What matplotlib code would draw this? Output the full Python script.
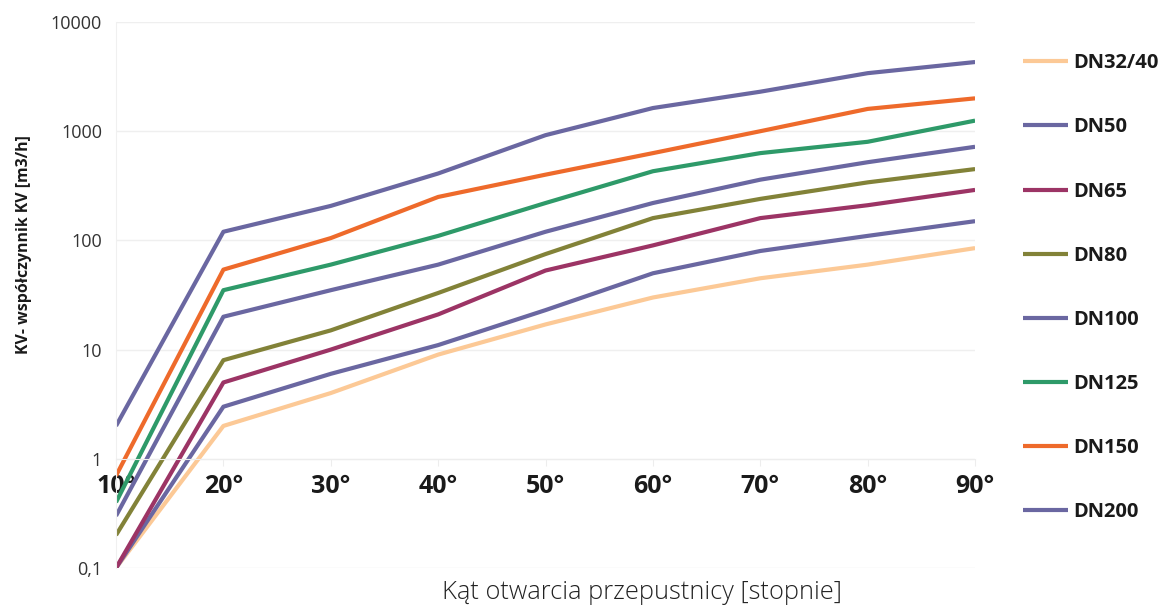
import matplotlib
matplotlib.use('Agg')
import matplotlib.pyplot as plt

plt.rcParams['font.family'] = ['Open Sans', 'DejaVu Sans']

# Dane
katy = ['10°', '20°', '30°', '40°', '50°', '60°', '70°', '80°', '90°']
dn32_40 = [0.1, 2, 4, 9, 17, 30, 45, 60, 85]
dn50 = [0.1, 3, 6, 11, 23, 50, 80, 110, 150]
dn65 = [0.1, 5, 10, 21, 53, 90, 160, 210, 290]
dn80 = [0.2, 8, 15, 33, 75, 160, 240, 340, 450]
dn100 = [0.3, 20, 35, 60, 120, 220, 360, 520, 720]
dn125 = [0.4, 35, 60, 110, 220, 430, 630, 800, 1250]
dn150 = [0.7, 54, 105, 250, 400, 630, 1000, 1600, 2000]
dn200 = [2, 120, 207, 410, 920, 1630, 2300, 3400, 4300]

serie = [
    ('DN32/40', dn32_40, '#FCC996'),
    ('DN50', dn50, '#6A67A1'),
    ('DN65', dn65, '#9C3465'),
    ('DN80', dn80, '#828238'),
    ('DN100', dn100, '#6A67A1'),
    ('DN125', dn125, '#2E9A69'),
    ('DN150', dn150, '#EE6A2B'),
    ('DN200', dn200, '#6A67A1'),
]

fig = plt.figure(figsize=(11.59, 6.08), dpi=100)
ax = fig.add_axes([0.1001, 0.0658, 0.7412, 0.898])

x = list(range(len(katy)))
for nombre, valores, color in serie:
    ax.plot(x, valores, color=color, linewidth=3, label=nombre, solid_capstyle='butt')

ax.set_yscale('log')
ax.set_ylim(0.1, 10000)
ax.set_xlim(0, len(katy) - 1)

yticks = [0.1, 1, 10, 100, 1000, 10000]
ax.set_yticks(yticks)
ax.set_yticklabels(['0,1', '1', '10', '100', '1000', '10000'], fontsize=13, color='#333333')
ax.minorticks_off()
ax.tick_params(axis='y', length=0, pad=10)
ax.yaxis.grid(True, color='#EFEFEF', linewidth=1)
ax.set_axisbelow(True)

# oś X przecina oś Y w 1
ax.spines['bottom'].set_position(('data', 1))
ax.spines['bottom'].set_color('#EDEDED')
ax.spines['left'].set_color('#F0F0F0')
ax.spines['top'].set_visible(False)
ax.spines['right'].set_visible(False)
ax.set_xticks(x)
ax.set_xticklabels(katy, fontsize=18, fontweight='bold', color='#1A1A1A')
ax.tick_params(axis='x', length=5, color='#EDEDED', pad=6)

fig.text(0.021, 1 - 245 / 608, 'KV- współczynnik KV [m3/h]', fontsize=11.4, fontweight='bold',
         color='#1A1A1A', rotation=90, ha='center', va='center')
fig.text(0.554, 0.025, 'Kąt otwarcia przepustnicy [stopnie]', fontsize=18.3, color='#222222',
         ha='center', va='center', fontweight='light')

leg = ax.legend(loc='upper left', bbox_to_anchor=(0.867, 0.942), bbox_transform=fig.transFigure,
                frameon=False, fontsize=14.5, handlelength=2.24, handletextpad=0.25, labelspacing=2.19)
for t in leg.get_texts():
    t.set_fontweight('bold')
    t.set_color('#1A1A1A')

plt.savefig('out.png', dpi=100)
